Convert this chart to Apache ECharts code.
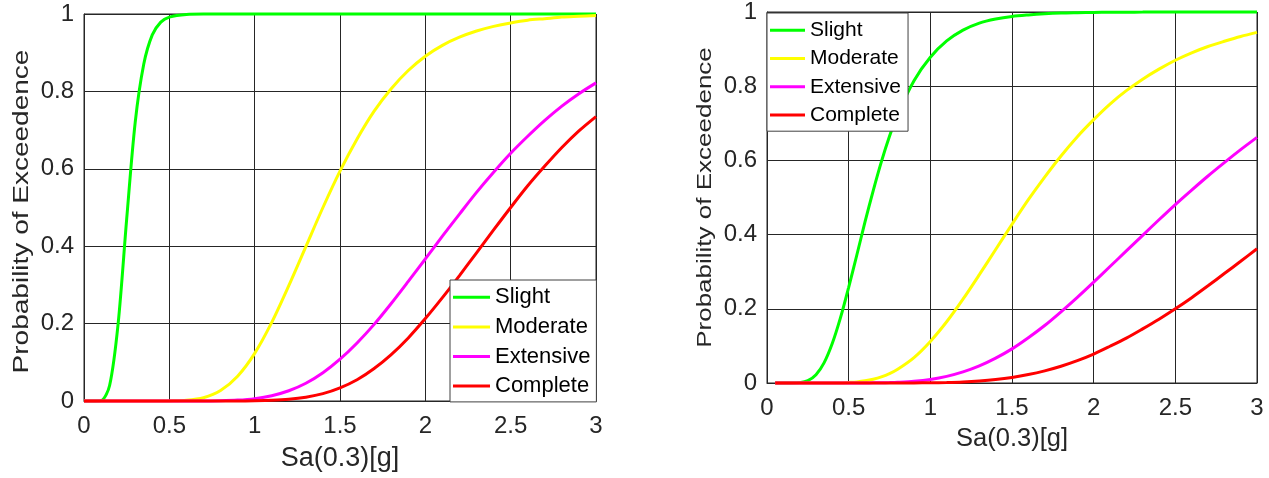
<!DOCTYPE html>
<html>
<head>
<meta charset="utf-8">
<script src="https://cdn.jsdelivr.net/npm/echarts@6/dist/echarts.min.js"></script>
<style>
html,body{margin:0;padding:0;background:#fff;}
#chart{width:1269px;height:478px;}
</style>
</head>
<body>
<div id="chart"></div>
<script>
// ---------- data ----------
var seriesNames = ['Slight', 'Moderate', 'Extensive', 'Complete'];
var xTicks = [0, 0.5, 1, 1.5, 2, 2.5, 3];
var yTicks = [0, 0.2, 0.4, 0.6, 0.8, 1];

// left panel
var xLeft = [0,0.05,0.1,0.15,0.2,0.25,0.3,0.35,0.4,0.45,0.5,0.6,0.7,0.8,0.9,1.0,1.1,1.2,1.3,1.4,1.5,1.6,1.7,1.8,1.9,2.0,2.1,2.2,2.3,2.4,2.5,2.6,2.7,2.8,2.9,3.0];
var slightLeft = [0,0,0.001,0.04,0.2,0.47,0.72,0.87,0.946,0.979,0.992,0.999,1,1,1,1,1,1,1,1,1,1,1,1,1,1,1,1,1,1,1,1,1,1,1,1];
var moderateLeft = [0,0,0,0,0,0,0,0,0,0,0.0002,0.0017,0.0084,0.027,0.064,0.123,0.203,0.298,0.399,0.5,0.594,0.677,0.749,0.807,0.854,0.891,0.919,0.94,0.956,0.968,0.977,0.984,0.988,0.992,0.994,0.996];
var extensiveLeft = [0,0,0,0,0,0,0,0,0,0,0,0,0.0002,0.0007,0.0023,0.0061,0.0136,0.0264,0.0458,0.073,0.108,0.15,0.198,0.252,0.309,0.367,0.426,0.483,0.539,0.591,0.64,0.684,0.725,0.762,0.794,0.822];
var completeLeft = [0,0,0,0,0,0,0,0,0,0,0,0,0,0,0,0.0005,0.0017,0.0044,0.0098,0.019,0.034,0.055,0.084,0.12,0.163,0.213,0.267,0.324,0.383,0.442,0.5,0.556,0.607,0.655,0.698,0.735];

// right panel
var xRight = [0.05,0.1,0.15,0.2,0.25,0.3,0.35,0.4,0.45,0.5,0.55,0.6,0.65,0.7,0.75,0.8,0.9,1.0,1.1,1.2,1.3,1.4,1.5,1.6,1.7,1.8,1.9,2.0,2.1,2.2,2.3,2.4,2.5,2.6,2.7,2.8,2.9,3.0];
var slightRight = [0,0,0,0.001,0.0064,0.0225,0.055,0.107,0.176,0.258,0.345,0.434,0.518,0.596,0.665,0.724,0.815,0.878,0.922,0.951,0.97,0.981,0.988,0.992,0.995,0.997,0.998,0.9988,0.9992,0.9995,0.9997,1,1,1,1,1,1,1];
var moderateRight = [0,0,0,0,0,0,0,0,0,0.0014,0.003,0.0058,0.0102,0.0166,0.0254,0.037,0.0685,0.112,0.165,0.226,0.292,0.36,0.428,0.494,0.555,0.612,0.664,0.71,0.752,0.788,0.819,0.846,0.87,0.89,0.907,0.921,0.934,0.945];
var extensiveRight = [0,0,0,0,0,0,0,0,0,0,0,0.0002,0.0004,0.0006,0.0011,0.0019,0.0046,0.0096,0.0178,0.0298,0.0461,0.067,0.092,0.122,0.155,0.192,0.231,0.272,0.314,0.356,0.398,0.44,0.481,0.52,0.558,0.594,0.629,0.662];
var completeRight = [0,0,0,0,0,0,0,0,0,0,0,0,0,0,0,0,0.0002,0.0006,0.0015,0.003,0.0056,0.0095,0.0151,0.0228,0.0328,0.0452,0.0603,0.078,0.099,0.121,0.146,0.172,0.2,0.23,0.262,0.295,0.328,0.362];

var colors = ['#00ff00', '#ffff00', '#ff00ff', '#ff0000'];
var xTitle = 'Sa(0.3)[g]';
var yTitle = 'Probability of Exceedence';

// ---------- build ----------
var FONT = "'Liberation Sans', Arial, Helvetica, sans-serif";
var TXT = '#262626';

function pairs(xs, ys) { return xs.map(function (x, i) { return [x, ys[i]]; }); }

function makeX(idx, nameSize, gap) {
  return {
    type: 'value', gridIndex: idx, min: 0, max: 3, interval: 0.5,
    name: xTitle, nameLocation: 'middle', nameGap: gap,
    nameTextStyle: { fontFamily: FONT, fontSize: nameSize, color: TXT },
    axisLine: { show: true, lineStyle: { color: TXT, width: 1 } },
    axisTick: { show: false },
    axisLabel: { fontFamily: FONT, fontSize: 24, color: TXT, margin: 13,
      formatter: function (v) { return xTicks.indexOf(v) >= 0 ? String(v) : ''; } },
    splitLine: { show: true, lineStyle: { color: '#262626', width: 1 } }
  };
}
function makeY(idx) {
  return {
    type: 'value', gridIndex: idx, min: 0, max: 1, interval: 0.2,
    axisLine: { show: true, lineStyle: { color: TXT, width: 1 } },
    axisTick: { show: false },
    axisLabel: { fontFamily: FONT, fontSize: 24, color: TXT, margin: 10,
      formatter: function (v) { var r = Math.round(v * 10) / 10; return yTicks.indexOf(r) >= 0 ? String(r) : ''; } },
    splitLine: { show: true, lineStyle: { color: '#262626', width: 1 } }
  };
}

var leftData = [slightLeft, moderateLeft, extensiveLeft, completeLeft];
var rightData = [slightRight, moderateRight, extensiveRight, completeRight];
var series = [];
seriesNames.forEach(function (n, i) {
  series.push({
    name: n, type: 'line', xAxisIndex: 0, yAxisIndex: 0,
    data: pairs(xLeft, leftData[i]), symbol: 'none', showSymbol: false, smooth: 0.3,
    clip: false, lineStyle: { color: colors[i], width: 3 }, itemStyle: { color: colors[i] }
  });
});
seriesNames.forEach(function (n, i) {
  series.push({
    name: n, type: 'line', xAxisIndex: 1, yAxisIndex: 1,
    data: pairs(xRight, rightData[i]), symbol: 'none', showSymbol: false, smooth: 0.3,
    clip: false, lineStyle: { color: colors[i], width: 3 }, itemStyle: { color: colors[i] }
  });
});

var chart = echarts.init(document.getElementById('chart'), null, { renderer: 'canvas' });
chart.setOption({
  backgroundColor: '#ffffff',
  animation: false,
  color: colors,
  grid: [
    { left: 84, top: 14, right: 673, bottom: 77, show: true, borderColor: TXT, borderWidth: 1, backgroundColor: '#fff', containLabel: false },
    { left: 767, top: 12, right: 12, bottom: 95, show: true, borderColor: TXT, borderWidth: 1, backgroundColor: '#fff', containLabel: false }
  ],
  xAxis: [makeX(0, 27, 44), makeX(1, 25.5, 43)],
  yAxis: [makeY(0), makeY(1)],
  legend: [
    { orient: 'vertical', left: 450, top: 280, icon: 'rect', itemWidth: 37, itemHeight: 3, itemGap: 0,
      padding: [2.5, 6, 1, 3], borderColor: '#404040', borderWidth: 1, backgroundColor: '#fff',
      data: seriesNames, selectedMode: false,
      textStyle: { fontFamily: FONT, fontSize: 22, color: '#000', lineHeight: 29.6 } },
    { orient: 'vertical', left: 767, top: 13, icon: 'rect', itemWidth: 35, itemHeight: 3, itemGap: 0,
      padding: [3, 7, 2, 3], borderColor: '#404040', borderWidth: 1, backgroundColor: '#fff',
      data: seriesNames, selectedMode: false,
      textStyle: { fontFamily: FONT, fontSize: 21, color: '#000', lineHeight: 28.3 } }
  ],
  graphic: [
    { type: 'text', x: 22, y: 211.5, rotation: Math.PI / 2, scaleY: 0.76,
      style: { text: yTitle, fontFamily: FONT, fontSize: 28, fill: TXT, align: 'center', verticalAlign: 'middle' } },
    { type: 'text', x: 706, y: 197.5, rotation: Math.PI / 2, scaleY: 0.76,
      style: { text: yTitle, fontFamily: FONT, fontSize: 26, fill: TXT, align: 'center', verticalAlign: 'middle' } }
  ],
  series: series
});
</script>
</body>
</html>
